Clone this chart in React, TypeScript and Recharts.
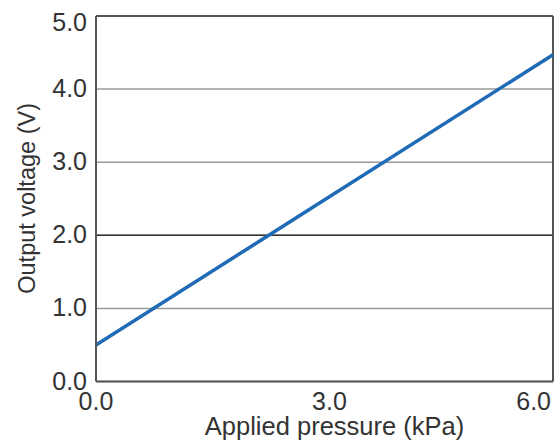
import React from 'react';
import { LineChart, Line, XAxis, YAxis, CartesianGrid, ReferenceLine } from 'recharts';

const pressure = [0, 6];
const voltage = [0.5, 4.47];
const xTicks = [0, 3, 6];
const yTicks = [0, 1, 2, 3, 4, 5];

const data = pressure.map((p, i) => ({ p, v: voltage[i] }));

const FONT = '"Liberation Sans", Arial, Helvetica, sans-serif';

const XTick = (props: any) => {
  const { x, y, payload, index } = props;
  const anchor = index === 0 ? 'middle' : index === xTicks.length - 1 ? 'end' : 'middle';
  const dx = index === 1 ? 5 : 0;
  return (
    <text x={x + dx} y={y + 20} textAnchor={anchor} fontSize={25} fontFamily={FONT} fill="#333">
      {payload.value.toFixed(1)}
    </text>
  );
};

const YTick = (props: any) => {
  const { x, y, payload } = props;
  const dy = payload.value === 5 ? 7 : 0;
  return (
    <text x={x - 1} y={y + dy + 8} textAnchor="end" fontSize={25} fontFamily={FONT} fill="#333">
      {payload.value.toFixed(1)}
    </text>
  );
};

export default function App() {
  return (
    <div style={{ position: 'absolute', left: 0, top: 0, background: '#fff' }}>
      <LineChart width={555} height={445} data={data} margin={{ top: 16, right: 2, bottom: 0, left: 0 }}>
        <CartesianGrid vertical={false} stroke="#9a9a9a" strokeWidth={1.5} />
        <XAxis
          dataKey="p"
          type="number"
          domain={[0, 6]}
          ticks={xTicks}
          height={63.5}
          axisLine={{ stroke: '#555', strokeWidth: 2 }}
          tickLine={false}
          tick={<XTick />}
          label={{ value: 'Applied pressure (kPa)', position: 'insideBottom', offset: 10, dx: 10, fontSize: 25.5, fontFamily: FONT, fill: '#333' }}
        />
        <YAxis
          type="number"
          domain={[0, 5]}
          ticks={yTicks}
          width={96}
          axisLine={{ stroke: '#555', strokeWidth: 2 }}
          tickLine={false}
          tick={<YTick />}
          label={{ value: 'Output voltage (V)', angle: -90, position: 'insideLeft', dx: 22, dy: 95, fontSize: 23.5, fontFamily: FONT, fill: '#333' }}
        />
        <ReferenceLine y={2} stroke="#333" strokeWidth={1.5} />
        <ReferenceLine y={5} stroke="#555" strokeWidth={2} />
        <ReferenceLine x={6} stroke="#555" strokeWidth={2} />
        <Line dataKey="v" stroke="#1f6bb5" strokeWidth={3.5} dot={false} isAnimationActive={false} />
      </LineChart>
    </div>
  );
}
